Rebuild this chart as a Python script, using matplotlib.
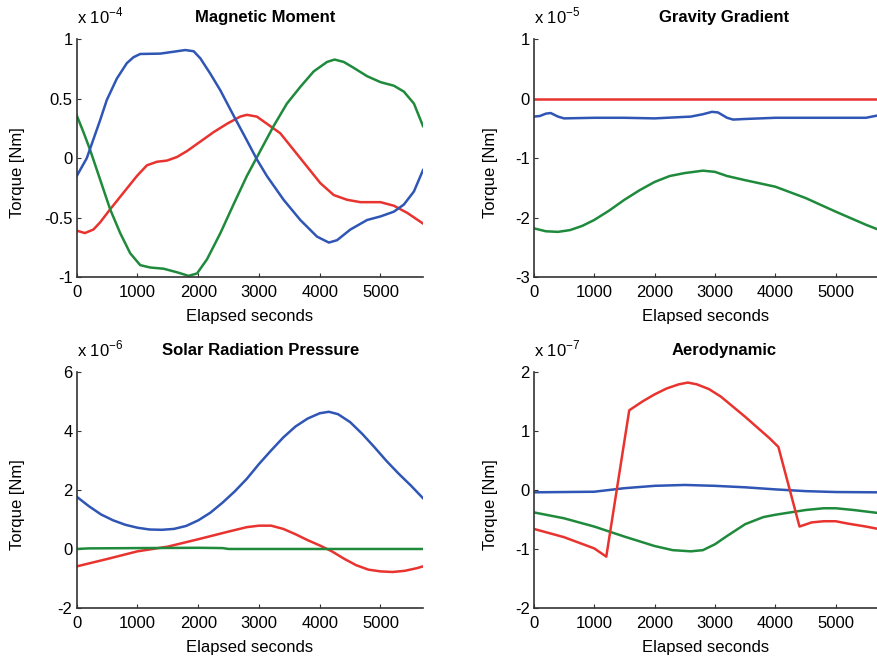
"""
Disturbance torques over one orbit, four panels.
"""

import numpy as np
import matplotlib
matplotlib.use('Agg')
import matplotlib.pyplot as plt

plt.rcParams['font.family'] = ['Liberation Sans', 'DejaVu Sans']
plt.rcParams['mathtext.fontset'] = 'custom'
plt.rcParams['mathtext.rm'] = 'Liberation Sans'

BLUE = '#2f55b5'
RED = '#e8332f'
GREEN = '#1f8a3c'

# --- Magnetic Moment (x 1e-4) ---
mag_t_blue = [0, 165, 385, 495, 660, 825, 935, 1045, 1375, 1595, 1785, 1925, 2035, 2200, 2365, 2580,
              2800, 2965, 3130, 3405, 3680, 3955, 4150, 4285, 4505, 4780, 5000, 5220, 5385, 5550, 5700]
mag_blue = [-0.15, 0.0, 0.32, 0.49, 0.67, 0.80, 0.85, 0.877, 0.88, 0.896, 0.91, 0.90, 0.84, 0.71, 0.57, 0.36,
            0.15, -0.01, -0.15, -0.35, -0.52, -0.66, -0.71, -0.69, -0.60, -0.52, -0.49, -0.45, -0.39, -0.28, -0.10]
mag_t_red = [0, 135, 275, 385, 550, 770, 990, 1155, 1320, 1485, 1650, 1815, 2035, 2255, 2475, 2690,
             2800, 2965, 3130, 3350, 3570, 3790, 4010, 4230, 4450, 4670, 5000, 5220, 5440, 5700]
mag_red = [-0.61, -0.63, -0.60, -0.54, -0.43, -0.29, -0.15, -0.06, -0.03, -0.02, 0.01, 0.06, 0.14, 0.22, 0.29, 0.35,
           0.365, 0.35, 0.29, 0.21, 0.07, -0.07, -0.21, -0.31, -0.35, -0.37, -0.37, -0.40, -0.46, -0.55]
mag_t_green = [0, 110, 220, 385, 550, 715, 880, 1045, 1210, 1430, 1650, 1840, 1980, 2145, 2365, 2580,
               2800, 3020, 3240, 3460, 3680, 3900, 4120, 4245, 4395, 4560, 4780, 5000, 5220, 5385, 5550, 5700]
mag_green = [0.36, 0.22, 0.07, -0.18, -0.43, -0.63, -0.80, -0.90, -0.92, -0.93, -0.96, -0.99, -0.97, -0.85, -0.63, -0.39,
             -0.15, 0.06, 0.27, 0.46, 0.60, 0.73, 0.81, 0.83, 0.81, 0.76, 0.69, 0.64, 0.61, 0.56, 0.46, 0.27]

# --- Gravity Gradient (x 1e-5) ---
grav_t_red = [0, 5700]
grav_red = [0.0, 0.0]
grav_t_blue = [0, 100, 200, 280, 400, 500, 1000, 1500, 2000, 2600, 2800, 2950, 3050, 3200, 3300, 3500,
               4000, 4500, 5000, 5500, 5700]
grav_blue = [-0.30, -0.29, -0.25, -0.24, -0.30, -0.33, -0.32, -0.32, -0.33, -0.30, -0.26, -0.22, -0.23, -0.32, -0.35, -0.34,
             -0.32, -0.32, -0.32, -0.32, -0.28]
grav_t_green = [0, 200, 400, 600, 800, 1000, 1250, 1500, 1750, 2000, 2250, 2500, 2800, 3000, 3200, 3500,
                4000, 4500, 5000, 5500, 5700]
grav_green = [-2.18, -2.23, -2.24, -2.21, -2.14, -2.04, -1.88, -1.70, -1.54, -1.40, -1.30, -1.25, -1.21, -1.23, -1.30, -1.37,
              -1.48, -1.67, -1.90, -2.12, -2.20]

# --- Solar Radiation Pressure (x 1e-6) ---
srp_t_blue = [0, 200, 400, 600, 800, 1000, 1200, 1400, 1600, 1800, 2000, 2200, 2400, 2600, 2800, 3000,
              3200, 3400, 3600, 3800, 4000, 4150, 4300, 4500, 4700, 4900, 5100, 5300, 5500, 5700]
srp_blue = [1.77, 1.45, 1.17, 0.97, 0.82, 0.72, 0.66, 0.65, 0.68, 0.78, 0.97, 1.23, 1.57, 1.95, 2.38, 2.88,
            3.34, 3.78, 4.15, 4.42, 4.60, 4.65, 4.57, 4.30, 3.90, 3.45, 2.98, 2.55, 2.15, 1.72]
srp_t_red = [0, 500, 1000, 1500, 2000, 2500, 2800, 3000, 3200, 3400, 3600, 3800, 4000, 4200, 4400, 4600,
             4800, 5000, 5200, 5400, 5600, 5700]
srp_red = [-0.59, -0.34, -0.08, 0.08, 0.33, 0.59, 0.74, 0.79, 0.79, 0.68, 0.50, 0.30, 0.12, -0.08, -0.33, -0.55,
           -0.70, -0.76, -0.78, -0.74, -0.65, -0.59]
srp_t_green = [0, 200, 1000, 2000, 2400, 2500, 5700]
srp_green = [0.0, 0.02, 0.03, 0.04, 0.03, 0.0, 0.0]

# --- Aerodynamic (x 1e-7) ---
aero_t_blue = [0, 1000, 1500, 2000, 2500, 3000, 3500, 4000, 4500, 5000, 5700]
aero_blue = [-0.04, -0.03, 0.03, 0.07, 0.085, 0.07, 0.045, 0.01, -0.02, -0.035, -0.04]
aero_t_red = [0, 500, 1000, 1200, 1580, 1800, 2000, 2200, 2400, 2550, 2700, 2900, 3100, 3300, 3500, 3700,
              3900, 4050, 4400, 4600, 4800, 5000, 5200, 5500, 5700]
aero_red = [-0.66, -0.80, -0.99, -1.13, 1.35, 1.50, 1.62, 1.72, 1.79, 1.82, 1.79, 1.71, 1.58, 1.41, 1.24, 1.06,
            0.88, 0.73, -0.62, -0.55, -0.53, -0.53, -0.57, -0.62, -0.66]
aero_t_green = [0, 500, 1000, 1500, 2000, 2300, 2600, 2800, 3000, 3200, 3500, 3800, 4000, 4500, 4800, 5000,
                5300, 5700]
aero_green = [-0.38, -0.48, -0.62, -0.79, -0.95, -1.02, -1.04, -1.02, -0.92, -0.78, -0.58, -0.46, -0.42, -0.34, -0.31, -0.31,
              -0.34, -0.39]

panels = [
    dict(title='Magnetic Moment', exp='-4', ylim=(-1, 1), yticks=[-1, -0.5, 0, 0.5, 1],
         ylabels=['-1', '-0.5', '0', '0.5', '1'],
         rect=[0.0874, 0.5777, 0.3944, 0.3623], title_x=0.544, ylab_x=-0.149,
         series=[(mag_t_red, mag_red, RED), (mag_t_green, mag_green, GREEN), (mag_t_blue, mag_blue, BLUE)]),
    dict(title='Gravity Gradient', exp='-5', ylim=(-3, 1), yticks=[-3, -2, -1, 0, 1],
         ylabels=['-3', '-2', '-1', '0', '1'],
         rect=[0.608, 0.5777, 0.392, 0.3623], title_x=0.552, ylab_x=-0.105,
         series=[(grav_t_green, grav_green, GREEN), (grav_t_blue, grav_blue, BLUE), (grav_t_red, grav_red, RED)]),
    dict(title='Solar Radiation Pressure', exp='-6', ylim=(-2, 6), yticks=[-2, 0, 2, 4, 6],
         ylabels=['-2', '0', '2', '4', '6'],
         rect=[0.0874, 0.0732, 0.3944, 0.3598], title_x=0.53, ylab_x=-0.149,
         series=[(srp_t_blue, srp_blue, BLUE), (srp_t_red, srp_red, RED), (srp_t_green, srp_green, GREEN)]),
    dict(title='Aerodynamic', exp='-7', ylim=(-2, 2), yticks=[-2, -1, 0, 1, 2],
         ylabels=['-2', '-1', '0', '1', '2'],
         rect=[0.608, 0.0732, 0.392, 0.3598], title_x=0.552, ylab_x=-0.105,
         series=[(aero_t_blue, aero_blue, BLUE), (aero_t_green, aero_green, GREEN), (aero_t_red, aero_red, RED)]),
]

fig = plt.figure(figsize=(8.78, 6.56), dpi=100)

for p in panels:
    ax = fig.add_axes(p['rect'])
    for t, y, c in p['series']:
        ax.plot(t, y, color=c, linewidth=1.8, solid_joinstyle='round')
    ax.set_xlim(0, 5700)
    ax.set_ylim(*p['ylim'])
    ax.set_xticks([0, 1000, 2000, 3000, 4000, 5000])
    ax.set_yticks(p['yticks'])
    ax.set_yticklabels(p['ylabels'])
    ax.tick_params(direction='in', length=3, width=0.8, labelsize=12, color='#333333')
    ax.tick_params(axis='x', pad=6)
    ax.tick_params(axis='y', pad=3)
    for side in ['top', 'right']:
        ax.spines[side].set_visible(False)
    for side in ['left', 'bottom']:
        ax.spines[side].set_color('#333333')
        ax.spines[side].set_linewidth(1.2)
    ax.set_xlabel('Elapsed seconds', fontsize=12)
    ax.set_ylabel('Torque [Nm]', fontsize=12)
    ax.xaxis.set_label_coords(0.5, -0.134)
    ax.yaxis.set_label_coords(p['ylab_x'], 0.44)
    ax.text(p['title_x'], 1.092, p['title'], transform=ax.transAxes, ha='center', va='center',
            fontsize=12, fontweight='bold')
    ax.text(0.0, 1.067, 'x 10$^{\\mathregular{' + p['exp'] + '}}$', transform=ax.transAxes,
            ha='left', va='baseline', fontsize=12)

fig.savefig('out.png', dpi=100)
